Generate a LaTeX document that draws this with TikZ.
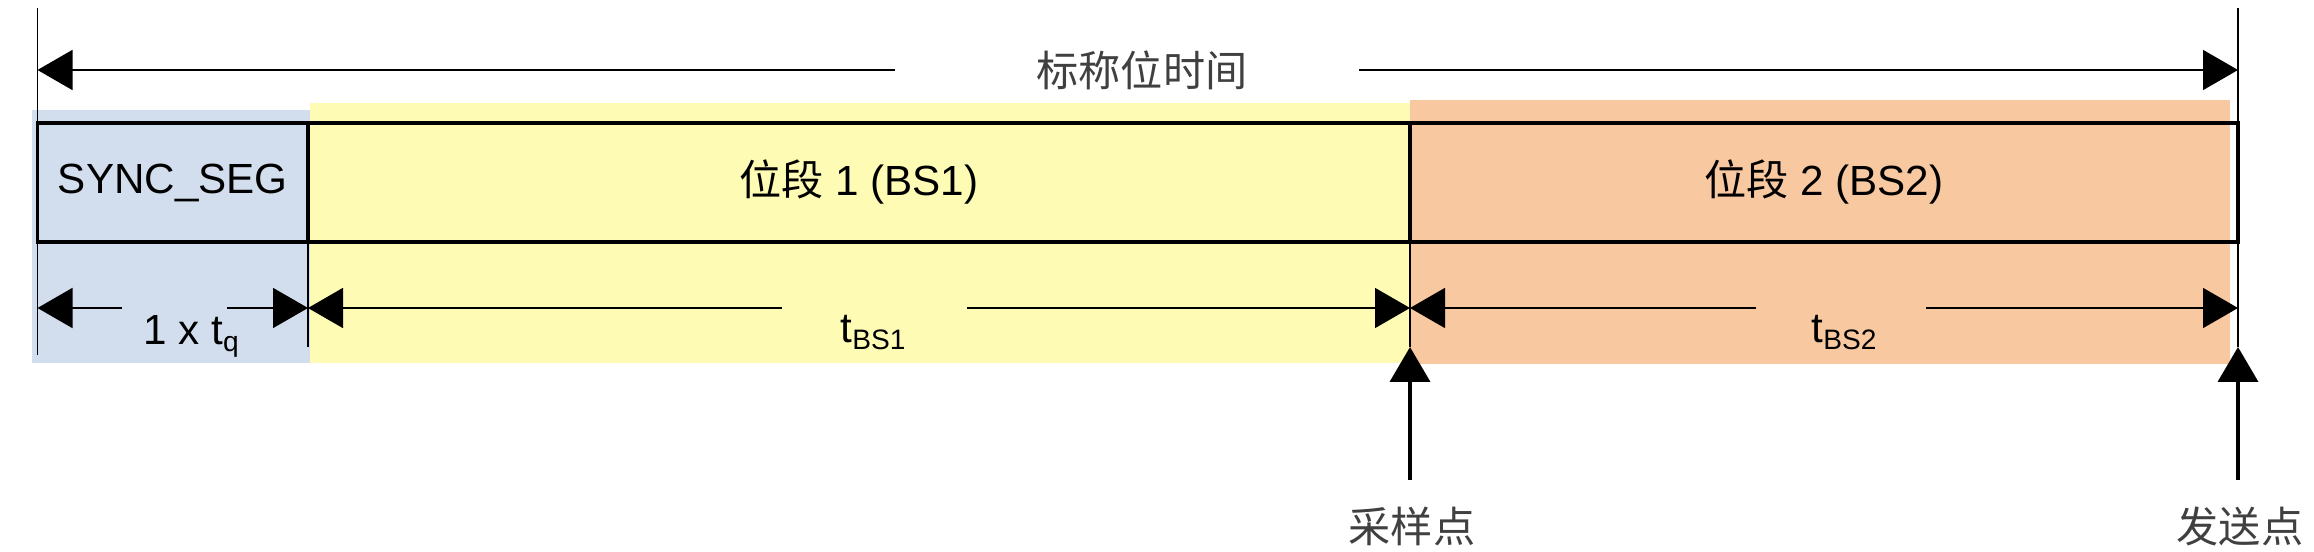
\documentclass[tikz,border=0pt]{standalone}
\usepackage{fontspec}
\setmainfont{Liberation Sans}
\newfontfamily\cjk{Noto Sans CJK SC}
\usepackage{tikz}
\usetikzlibrary{arrows.meta}
\definecolor{syncblue}{RGB}{210,222,238}
\definecolor{bsyellow}{RGB}{254,252,180}
\definecolor{bsorange}{RGB}{248,200,160}

\begin{document}
\begin{tikzpicture}[%
  >={Triangle[length=3.5mm,width=4mm]},
  thinline/.style={line width=0.45pt},
  seg/.style={draw,line width=0.9pt,minimum height=1.19cm,inner sep=0pt,
    outer sep=0pt,anchor=north west,font=\fontsize{12}{14}\selectfont},
  lbl/.style={font=\fontsize{12}{14}\selectfont},
  cn/.style={font=\cjk\fontsize{12}{14}\selectfont,text=black!75}]
  \useasboundingbox (0,0) rectangle (23.14,-5.52);
  \fill[syncblue] (0.32,-1.10) rectangle (3.10,-3.63);
  \fill[bsyellow] (3.10,-1.03) rectangle (14.10,-3.63);
  \fill[bsorange] (14.10,-1.00) rectangle (22.30,-3.64);

  \node[seg,minimum width=2.705cm] (sync) at (0.375,-1.23) {SYNC\_SEG};
  \node[seg,minimum width=11.02cm] (bs1) at (sync.north east) {{\cjk 位段} 1 (BS1)};
  \node[seg,minimum width=8.28cm] (bs2) at (bs1.north east) {{\cjk 位段} 2 (BS2)};

  \coordinate (ltop) at (0.375,-0.08);
  \coordinate (lbot) at (0.375,-3.55);
  \coordinate (rtop) at (22.38,-0.08);
  \coordinate (rbot) at (22.38,-3.47);
  \coordinate (syncbot) at (3.08,-3.47);
  \coordinate (sampletip) at (14.10,-3.47);
  \coordinate (sampletail) at (14.10,-4.80);
  \coordinate (sendtail) at (22.38,-4.80);
  \draw[thinline] (ltop) -- (lbot);
  \draw[thinline] (rtop) -- (rbot);
  \draw[thinline] (sync.south east) -- (syncbot);
  \draw[thinline] (bs1.south east) -- (sampletip);

  \node[cn] (nominal) at (11.42,-0.70) {标称位时间};
  \draw[thinline,->] ([xshift=-1.29cm]nominal.west) -- (ltop |- nominal);
  \draw[thinline,->] ([xshift=0.99cm]nominal.east) -- (rtop |- nominal);

  \coordinate (tqa) at (1.22,-3.08);
  \coordinate (tqb) at (2.27,-3.08);
  \coordinate (bsonea) at (7.82,-3.08);
  \coordinate (bsoneb) at (9.67,-3.08);
  \coordinate (bstwoa) at (17.56,-3.08);
  \coordinate (bstwob) at (19.26,-3.08);
  \draw[thinline,->] (tqa) -- (lbot |- tqa);
  \draw[thinline,->] (tqb) -- (syncbot |- tqb);
  \draw[thinline,->] (bsonea) -- (syncbot |- bsonea);
  \draw[thinline,->] (bsoneb) -- (sampletip |- bsoneb);
  \draw[thinline,->] (bstwoa) -- (sampletip |- bstwoa);
  \draw[thinline,->] (bstwob) -- (rbot |- bstwob);
  \node[lbl,anchor=base] (tq) at (1.92,-3.45) {1 x t\textsubscript{q}};
  \node[lbl,anchor=base] (tbs1) at (8.74,-3.43) {t\textsubscript{BS1}};
  \node[lbl,anchor=base] (tbs2) at (18.45,-3.43) {t\textsubscript{BS2}};

  \draw[line width=1.1pt,->] (sampletail) -- (sampletip);
  \draw[line width=1.1pt,->] (sendtail) -- (rbot);
  \node[cn] (sample) at (14.12,-5.26) {采样点};
  \node[cn] (send) at (22.40,-5.26) {发送点};
\end{tikzpicture}
\end{document}
